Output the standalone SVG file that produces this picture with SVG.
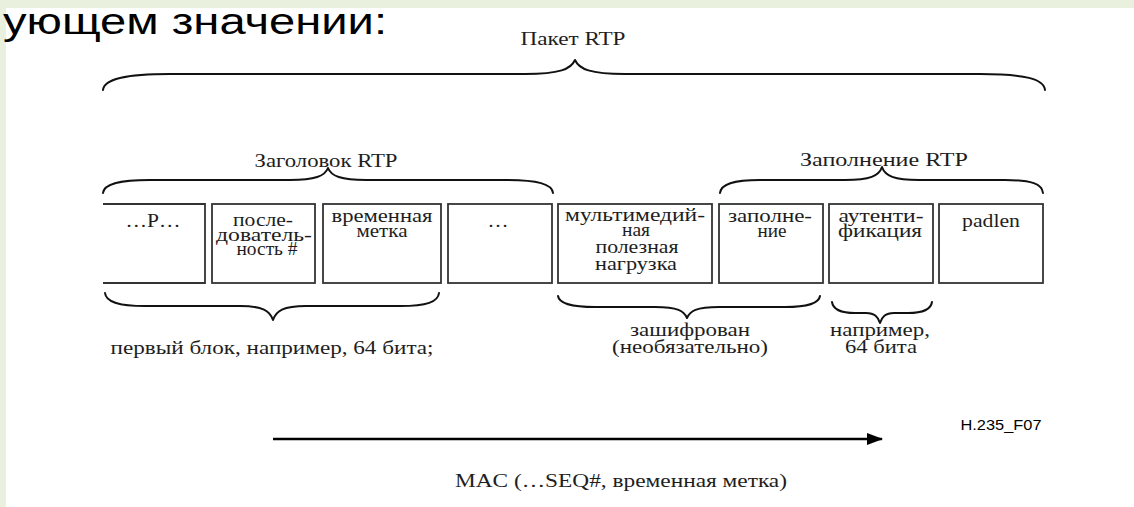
<svg xmlns="http://www.w3.org/2000/svg" width="1134" height="507" viewBox="0 0 1134 507">
<style>
.bg{fill:#e9f0dd}
.box{fill:#fff;stroke:#333;stroke-width:1.8}
.brace{fill:none;stroke:#111;stroke-width:2;stroke-linecap:round;stroke-linejoin:round}
.t{font-family:"Liberation Serif","Times New Roman","DejaVu Serif",serif;font-size:19px;fill:#1e1e1e;text-anchor:middle}
.s{font-family:"Liberation Sans",Arial,"Noto Sans",sans-serif;fill:#000}
.arrow{stroke:#000;stroke-width:2.4;fill:none}
</style>
<defs>
<marker id="ah" viewBox="0 0 16 12" refX="15" refY="6" markerWidth="16" markerHeight="12" markerUnits="userSpaceOnUse" orient="auto">
<path d="M0 0 L16 6 L0 12 Z" fill="#000"/>
</marker>
</defs>
<rect x="0" y="0" width="1134" height="507" fill="#fff"/>
<rect class="bg" x="0" y="0" width="1134" height="8"/>
<rect class="bg" x="0" y="0" width="6" height="507"/>
<text class="s" x="3" y="34" font-size="36" textLength="384" lengthAdjust="spacingAndGlyphs">ующем значении:</text>

<g id="braces">
<path class="brace" d="M103 90 C104 79 125 74 170 74 L525 74 C560 74 571 69 575 60 C579 69 590 74 625 74 L980 74 C1025 74 1044 79 1045 90"/>
<path class="brace" d="M103 193 C104 184 118 180 150 180 L290 180 C315 180 325 176 328 168 C331 176 341 180 366 180 L505 180 C538 180 552 184 553 193"/>
<path class="brace" d="M720 193 C721 184 733 180 760 180 L845 180 C870 180 879 176 882 167 C885 176 894 180 919 180 L1005 180 C1032 180 1042 184 1043 193"/>
<path class="brace" d="M105 293 C106 302 118 306 145 306 L240 306 C263 306 270 311 273 320 C276 311 283 306 306 306 L400 306 C427 306 438 302 439 293"/>
<path class="brace" d="M558 296 C559 303 570 307 595 307 L655 307 C678 307 684 311 687 318 C690 311 696 307 719 307 L785 307 C808 307 819 303 820 296"/>
<path class="brace" d="M832 302 C833 309 840 313 855 313 L866 313 C875 313 878 317 880 323 C882 317 885 313 894 313 L908 313 C924 313 931 309 932 302"/>
</g>

<g id="connectors">
<line class="arrow" x1="273" y1="439" x2="882" y2="439" marker-end="url(#ah)"/>
</g>

<g id="labels">
<text class="t" x="573" y="45" textLength="105" lengthAdjust="spacingAndGlyphs">Пакет RTP</text>
<text class="t" x="326" y="167" textLength="143" lengthAdjust="spacingAndGlyphs">Заголовок RTP</text>
<text class="t" x="884" y="166" textLength="168" lengthAdjust="spacingAndGlyphs">Заполнение RTP</text>
<text class="t" x="272" y="354" textLength="323" lengthAdjust="spacingAndGlyphs">первый блок, например, 64 бита;</text>
<text class="t" x="690" y="336" textLength="120" lengthAdjust="spacingAndGlyphs">зашифрован</text>
<text class="t" x="690" y="353" textLength="156" lengthAdjust="spacingAndGlyphs">(необязательно)</text>
<text class="t" x="880" y="336" textLength="100" lengthAdjust="spacingAndGlyphs">например,</text>
<text class="t" x="881" y="353" textLength="72" lengthAdjust="spacingAndGlyphs">64 бита</text>
<text class="s" x="1001" y="430" font-size="14" text-anchor="middle" textLength="81" lengthAdjust="spacingAndGlyphs">H.235_F07</text>
<text class="t" x="621" y="487" textLength="332" lengthAdjust="spacingAndGlyphs">MAC (…SEQ#, временная метка)</text>
</g>

<g id="box-p">
<path class="box" d="M103 204 H205 V283 H103"/>
<text class="t" x="153" y="227" textLength="55" lengthAdjust="spacingAndGlyphs">…P…</text>
</g>
<g id="box-seq">
<rect class="box" x="212" y="204" width="103" height="79"/>
<text class="t" x="263" y="226" textLength="60" lengthAdjust="spacingAndGlyphs">после-</text>
<text class="t" x="264" y="241" textLength="96" lengthAdjust="spacingAndGlyphs">дователь-</text>
<text class="t" x="267" y="255" textLength="61" lengthAdjust="spacingAndGlyphs">ность #</text>
</g>
<g id="box-timestamp">
<rect class="box" x="323" y="204" width="118" height="79"/>
<text class="t" x="382" y="222" textLength="101" lengthAdjust="spacingAndGlyphs">временная</text>
<text class="t" x="382" y="237" textLength="51" lengthAdjust="spacingAndGlyphs">метка</text>
</g>
<g id="box-dots">
<rect class="box" x="448" y="204" width="104" height="79"/>
<text class="t" x="498" y="227" textLength="21" lengthAdjust="spacingAndGlyphs">…</text>
</g>
<g id="box-payload">
<rect class="box" x="558" y="204" width="154" height="79"/>
<text class="t" x="635" y="221" textLength="140" lengthAdjust="spacingAndGlyphs">мультимедий-</text>
<text class="t" x="636" y="236" textLength="28" lengthAdjust="spacingAndGlyphs">ная</text>
<text class="t" x="637" y="253" textLength="83" lengthAdjust="spacingAndGlyphs">полезная</text>
<text class="t" x="636" y="270" textLength="82" lengthAdjust="spacingAndGlyphs">нагрузка</text>
</g>
<g id="box-padding">
<rect class="box" x="719" y="204" width="104" height="79"/>
<text class="t" x="770" y="222" textLength="84" lengthAdjust="spacingAndGlyphs">заполне-</text>
<text class="t" x="772" y="237" textLength="29" lengthAdjust="spacingAndGlyphs">ние</text>
</g>
<g id="box-auth">
<rect class="box" x="829" y="204" width="104" height="79"/>
<text class="t" x="881" y="222" textLength="85" lengthAdjust="spacingAndGlyphs">аутенти-</text>
<text class="t" x="880" y="237" textLength="84" lengthAdjust="spacingAndGlyphs">фикация</text>
</g>
<g id="box-padlen">
<rect class="box" x="939" y="204" width="104" height="79"/>
<text class="t" x="991" y="227" textLength="58" lengthAdjust="spacingAndGlyphs">padlen</text>
</g>
</svg>
